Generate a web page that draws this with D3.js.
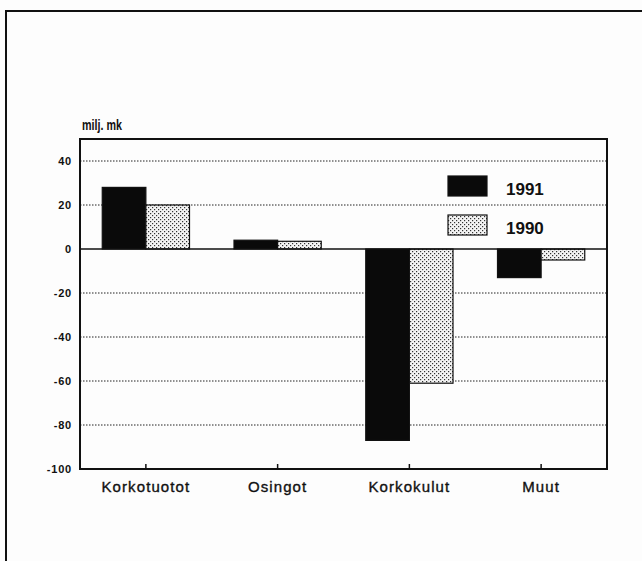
<!DOCTYPE html>
<html>
<head>
<meta charset="utf-8">
<script src="https://cdn.jsdelivr.net/npm/d3@7"></script>
<style>
  body { margin: 0; background: #fdfdfd; }
  svg { display: block; font-family: Arial, "Liberation Sans", Helvetica, sans-serif; }
</style>
</head>
<body>
<script>
  // data
  let categories = ["Korkotuotot", "Osingot", "Korkokulut", "Muut"];
  let series = ["1991", "1990"];
  let values1991 = [28, 4, -87, -13];
  let values1990 = [20, 3.5, -61, -5];
  let yTicks = [-100, -80, -60, -40, -20, 0, 20, 40];
  let gridTicks = [-80, -60, -40, -20, 20, 40];

  let W = 642, H = 561;
  let margin = { top: 139, right: 35, bottom: 92, left: 80 };
  let width = W - margin.left - margin.right,
      height = H - margin.top - margin.bottom;

  let svg = d3.select("body").append("svg")
    .attr("width", W)
    .attr("height", H);

  // dotted fill for 1990
  let pat = svg.append("defs").append("pattern")
    .attr("id", "dots")
    .attr("patternUnits", "userSpaceOnUse")
    .attr("width", 4)
    .attr("height", 4);
  pat.append("rect").attr("width", 4).attr("height", 4).attr("fill", "#f4f4f4");
  pat.append("rect").attr("x", 0).attr("y", 0).attr("width", 1.2).attr("height", 1.2).attr("fill", "#333");
  pat.append("rect").attr("x", 2).attr("y", 2).attr("width", 1.2).attr("height", 1.2).attr("fill", "#333");

  // outer frame (top and left edges only visible)
  svg.append("path")
    .attr("d", "M6,561 L6,11 L642,11")
    .attr("fill", "none")
    .attr("stroke", "#111")
    .attr("stroke-width", 2);

  let g = svg.append("g")
    .attr("transform", "translate(" + margin.left + "," + margin.top + ")");

  let yScale = d3.scaleLinear()
    .domain([-100, 50])
    .range([height, 0]);

  let xScale = d3.scaleBand()
    .domain(categories)
    .range([0, width])
    .paddingInner(0)
    .paddingOuter(0);

  let xSub = d3.scaleBand()
    .domain(series)
    .range([0, xScale.bandwidth()])
    .paddingInner(0)
    .paddingOuter(0.51);

  // gridlines
  g.selectAll(".grid")
    .data(gridTicks)
    .enter()
    .append("line")
    .attr("x1", 0)
    .attr("x2", width)
    .attr("y1", d => yScale(d))
    .attr("y2", d => yScale(d))
    .attr("stroke", "#222")
    .attr("stroke-width", 1)
    .attr("stroke-dasharray", "1.5,1.5");

  // bars
  let rows = [];
  categories.forEach((c, i) => {
    rows.push({ cat: c, s: "1991", v: values1991[i] });
    rows.push({ cat: c, s: "1990", v: values1990[i] });
  });

  g.selectAll(".bar")
    .data(rows)
    .enter()
    .append("rect")
    .attr("x", d => xScale(d.cat) + xSub(d.s))
    .attr("width", xSub.bandwidth())
    .attr("y", d => yScale(Math.max(0, d.v)))
    .attr("height", d => Math.abs(yScale(d.v) - yScale(0)))
    .attr("fill", d => d.s == "1991" ? "#0a0a0a" : "url(#dots)")
    .attr("stroke", "#111")
    .attr("stroke-width", 1.2);

  // zero line
  g.append("line")
    .attr("x1", 0)
    .attr("x2", width)
    .attr("y1", yScale(0))
    .attr("y2", yScale(0))
    .attr("stroke", "#111")
    .attr("stroke-width", 1.5);

  // plot frame
  g.append("rect")
    .attr("width", width)
    .attr("height", height)
    .attr("fill", "none")
    .attr("stroke", "#111")
    .attr("stroke-width", 2);

  // y axis
  let yAxis = g.append("g")
    .call(d3.axisLeft(yScale)
      .tickValues(yTicks)
      .tickFormat(d => String(d))
      .tickSize(0)
      .tickPadding(8));
  yAxis.select(".domain").remove();
  yAxis.selectAll("text")
    .style("font-size", "11px")
    .style("font-weight", "bold")
    .style("letter-spacing", "0.8px")
    .attr("fill", "#111");

  // x axis
  let xAxis = g.append("g")
    .attr("transform", "translate(0," + height + ")")
    .call(d3.axisBottom(xScale)
      .tickSizeInner(-5)
      .tickSizeOuter(0)
      .tickPadding(12));
  xAxis.select(".domain").remove();
  xAxis.selectAll("line").attr("stroke", "#111").attr("stroke-width", 1.5);
  xAxis.selectAll("text")
    .style("font-size", "15px")
    .style("letter-spacing", "1.1px")
    .attr("fill", "#111")
    .attr("stroke", "#111")
    .attr("stroke-width", 0.35);

  // unit label
  g.append("text")
    .attr("x", 2)
    .attr("y", -9)
    .text("milj. mk")
    .attr("textLength", 40)
    .attr("lengthAdjust", "spacingAndGlyphs")
    .style("font-size", "15px")
    .style("font-weight", "bold")
    .attr("fill", "#111");

  // legend
  let legend = g.append("g")
    .attr("transform", "translate(368,37)");
  series.forEach((s, i) => {
    legend.append("rect")
      .attr("x", 0)
      .attr("y", i * 39)
      .attr("width", 39)
      .attr("height", 20)
      .attr("fill", s == "1991" ? "#0a0a0a" : "url(#dots)")
      .attr("stroke", "#111")
      .attr("stroke-width", 1.2);
    legend.append("text")
      .attr("x", 58)
      .attr("y", i * 39 + 19)
      .text(s)
      .style("font-size", "17px")
      .style("font-weight", "bold")
      .attr("fill", "#111");
  });
</script>
</body>
</html>
